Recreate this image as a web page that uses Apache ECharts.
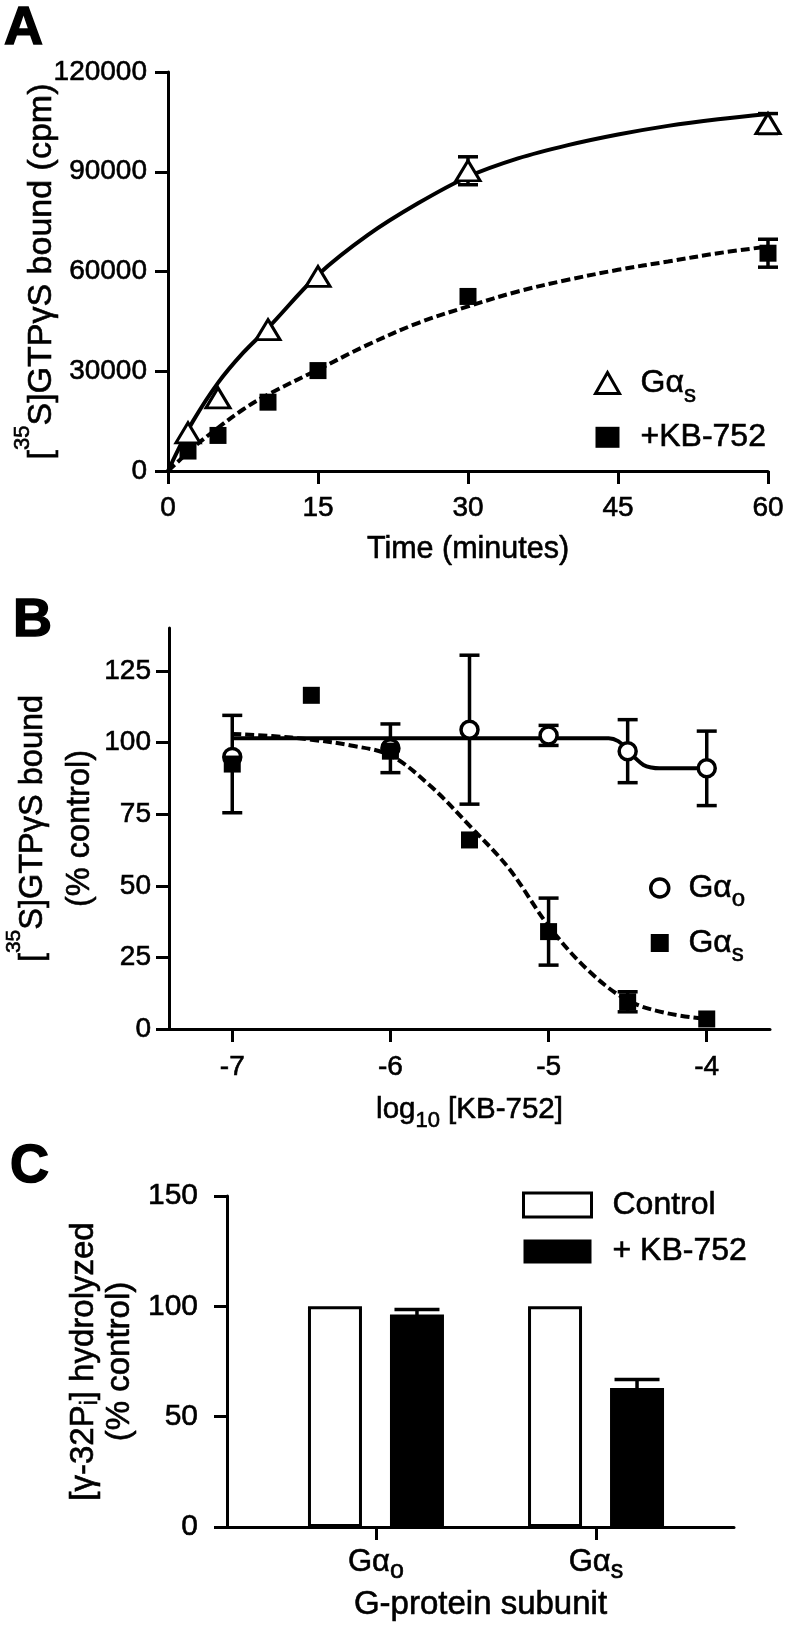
<!DOCTYPE html>
<html><head><meta charset="utf-8">
<script src="https://cdn.jsdelivr.net/npm/echarts@6/dist/echarts.min.js"></script>
<style>html,body{margin:0;padding:0;background:#fff}#c{width:786px;height:1628px}</style>
</head><body><div id="c"></div>
<script>
// ---------- Panel A : time course ----------
const timeMin   = [2, 5, 10, 15, 30, 60];
const gasCpm    = [11500, 22000, 42500, 58500, 90300, 104500];
const gasCpmErr = [0, 0, 0, 0, 4200, 3000];
const kbCpm     = [6000, 10700, 20700, 30200, 52500, 65500];
const kbCpmErr  = [0, 0, 0, 0, 0, 4200];
const fitTime   = [0, 1, 2.5, 5, 7.5, 10, 15, 20, 25, 30, 35, 40, 45, 50, 55, 60];
const gasFit    = [0, 6300, 15000, 26500, 35500, 43000, 59000, 71000, 80500, 88500, 94000, 98000, 101200, 103800, 105800, 107400];
const kbFit     = [0, 2800, 7000, 13000, 18500, 23000, 30500, 38000, 44500, 49500, 54000, 57500, 60500, 63000, 65500, 67500];

// ---------- Panel B : concentration response ----------
const goLogConc = [-7, -6, -5.5, -5, -4.5, -4];
const goPct     = [95, 98, 104.5, 102.5, 97, 91];
const goPctErr  = [0, 8.5, 26, 3.5, 11, 13];
const gsLogConc = [-7, -6.5, -6, -5.5, -5, -4.5, -4];
const gsPct     = [92.5, 116.5, 97, 66, 34, 9.5, 3.5];
const gsPctErr  = [17, 0, 0, 0, 11.7, 3.5, 0];
const goFitX    = [-7, -6, -5, -4.62, -4.56, -4.5, -4.45, -4.4, -4.35, -4.3, -4];
const goFitY    = [101.5, 101.5, 101.5, 101.5, 100.5, 97.5, 94.5, 92.2, 91.3, 91, 91];
const gsFitX    = [-7, -6.75, -6.5, -6.25, -6, -5.75, -5.5, -5.25, -5, -4.75, -4.5, -4.25, -4];
const gsFitY    = [103, 102.3, 101, 99, 95.5, 85, 71, 56, 36, 20.5, 10, 5.5, 3.5];
const bXTicks   = [-7, -6, -5, -4];
const bYTicks   = [0, 25, 50, 75, 100, 125];

// ---------- Panel C : GTP hydrolysis ----------
const subunits   = ['Gαo', 'Gαs'];
const controlPct = [100, 100];
const kbPct      = [96.3, 63];
const kbPctErr   = [2.3, 3.8];

const FONT = "'Liberation Sans', Arial, Helvetica, sans-serif";
const BLACK = '#000';
const TB = {textBorderColor: BLACK, textBorderWidth: 0.6};

function rich(subFs, subH, supH) {
  const sub = Object.assign({fontFamily: FONT, fontSize: subFs, color: BLACK, verticalAlign: 'bottom', lineHeight: 8}, TB);
  const sup = Object.assign({fontFamily: FONT, fontSize: subFs, color: BLACK, verticalAlign: 'top', lineHeight: 8}, TB);
  if (subH != null) sub.height = subH;
  if (supH != null) sup.height = supH;
  return {sub: sub, sup: sup};
}
function subText(s) { return s.slice(0, -1) + '{sub|' + s.slice(-1) + '}'; }

function axisBase(gridIndex, fs) {
  return {
    gridIndex: gridIndex, type: 'value', nameMoveOverlap: false,
    axisLine: {show: true, onZero: false, lineStyle: {color: BLACK, width: 3}},
    axisTick: {show: true, length: 13, lineStyle: {color: BLACK, width: 3}},
    splitLine: {show: false},
    axisLabel: Object.assign({color: BLACK, fontFamily: FONT, fontSize: fs, lineHeight: 32, formatter: v => String(v)}, TB),
    nameTextStyle: Object.assign({color: BLACK, fontFamily: FONT}, TB)
  };
}
function merge(a, b) {
  const out = Object.assign({}, a);
  for (const k in b) {
    if (b[k] && typeof b[k] === 'object' && !Array.isArray(b[k]) && a[k] && typeof a[k] === 'object') out[k] = merge(a[k], b[k]);
    else out[k] = b[k];
  }
  return out;
}

function errorBars(capW, dx) {
  return function (params, api) {
    const x = api.value(0);
    const top = api.coord([x, api.value(2)]);
    const bot = api.coord([x, api.value(1)]);
    const cx = top[0] + dx;
    const st = {stroke: BLACK, lineWidth: 3.5, fill: null};
    return {type: 'group', children: [
      {type: 'line', shape: {x1: cx, y1: top[1], x2: cx, y2: bot[1]}, style: st},
      {type: 'line', shape: {x1: cx - capW / 2, y1: top[1], x2: cx + capW / 2, y2: top[1]}, style: st},
      {type: 'line', shape: {x1: cx - capW / 2, y1: bot[1], x2: cx + capW / 2, y2: bot[1]}, style: st}
    ]};
  };
}
function errData(xs, ys, es) {
  return xs.map((x, i) => [x, ys[i] - es[i], ys[i] + es[i]]).filter(d => d[2] > d[1]);
}
const pairs = (xs, ys) => xs.map((x, i) => [x, ys[i]]);

const legendText = {
  'A-Gs': 'Gα{sub|s}', 'A-KB': '+KB-752',
  'B-Go': 'Gα{sub|o}', 'B-Gs': 'Gα{sub|s}',
  'C-Control': 'Control', 'C-KB': '+ KB-752'
};
const legendFmt = name => legendText[name];
const BAR_W = 54, BAR_GAP = 28;
const titleStyle = Object.assign({fontFamily: FONT, fontWeight: 'bold', fontSize: 54, lineHeight: 54, color: BLACK}, {textBorderColor: BLACK, textBorderWidth: 1.5});

const option = {
  animation: false,
  backgroundColor: '#fff',
  title: [
    {text: 'A', left: 4, top: 2, padding: 0, textStyle: titleStyle},
    {text: 'B', left: 13, top: 594, padding: 0, textStyle: titleStyle},
    {text: 'C', left: 10, top: 1140, padding: 0, textStyle: titleStyle}
  ],
  grid: [
    {left: 168, top: 72, width: 600, height: 399, outerBoundsMode: 'none', containLabel: false},
    {left: 169, top: 628, width: 601, height: 401, outerBoundsMode: 'none', containLabel: false},
    {left: 227, top: 1196, width: 507, height: 331, outerBoundsMode: 'none', containLabel: false}
  ],
  legend: [
    {orient: 'vertical', left: 594, top: 366, padding: 0, itemWidth: 24, itemHeight: 21, itemGap: 13, selectedMode: false,
     data: [{name: 'A-Gs', icon: 'triangle', itemStyle: {color: '#fff', borderColor: BLACK, borderWidth: 3}},
            {name: 'A-KB', icon: 'rect', itemStyle: {color: BLACK, borderWidth: 0}}],
     formatter: legendFmt,
     textStyle: Object.assign({fontFamily: FONT, fontSize: 32, lineHeight: 34, color: BLACK, padding: [0, 0, 0, 16], rich: rich(24, 10)}, TB)},
    {orient: 'vertical', left: 649, top: 871, padding: 0, itemWidth: 18, itemHeight: 18, itemGap: 14.7, selectedMode: false,
     data: [{name: 'B-Go', icon: 'circle', itemStyle: {color: '#fff', borderColor: BLACK, borderWidth: 3.5}},
            {name: 'B-Gs', icon: 'rect', itemStyle: {color: BLACK, borderWidth: 0}}],
     formatter: legendFmt,
     textStyle: Object.assign({fontFamily: FONT, fontSize: 32, lineHeight: 34, color: BLACK, padding: [0, 0, 0, 14.7], rich: rich(24, 12)}, TB)},
    {orient: 'vertical', left: 522, top: 1187, padding: 0, itemWidth: 68, itemHeight: 24, itemGap: 10.6, selectedMode: false,
     data: [{name: 'C-Control', icon: 'rect', itemStyle: {color: '#fff', borderColor: BLACK, borderWidth: 3}},
            {name: 'C-KB', icon: 'rect', itemStyle: {color: BLACK, borderWidth: 0}}],
     formatter: legendFmt,
     textStyle: Object.assign({fontFamily: FONT, fontSize: 32, lineHeight: 36, color: BLACK, padding: [0, 0, 0, 16]}, TB)}
  ],
  xAxis: [
    merge(axisBase(0, 28), {min: 0, max: 60, interval: 15, axisLabel: {margin: 21},
      name: 'Time (minutes)', nameLocation: 'middle', nameGap: 61,
      nameTextStyle: {fontSize: 30.5, lineHeight: 36}}),
    merge(axisBase(1, 28), {min: -7.4, max: -3.6,
      axisTick: {customValues: bXTicks}, axisLabel: {customValues: bXTicks, margin: 22},
      name: 'log{sub|10} [KB-752]', nameLocation: 'middle', nameGap: 63,
      nameTextStyle: {fontSize: 29.5, lineHeight: 36, rich: rich(22, 14)}}),
    merge(axisBase(2, 31), {min: 0.323, max: 2.627,
      axisTick: {customValues: [1, 2]},
      axisLabel: {customValues: [1, 2], margin: 18, lineHeight: 34, rich: rich(25, 16),
        formatter: v => subText(subunits[Math.round(v) - 1])},
      name: 'G-protein subunit', nameLocation: 'middle', nameGap: 59,
      nameTextStyle: {fontSize: 33, lineHeight: 38}})
  ],
  yAxis: [
    merge(axisBase(0, 28), {min: 0, max: 120000, interval: 30000, axisLabel: {margin: 21},
      name: '[{sup|35}S]GTPγS bound (cpm)', nameLocation: 'middle', nameRotate: 90, nameGap: 106,
      nameTextStyle: {fontSize: 34, lineHeight: 40, rich: rich(22, null, 2)}}),
    merge(axisBase(1, 28), {min: 0, max: 140,
      axisTick: {customValues: bYTicks}, axisLabel: {customValues: bYTicks, margin: 18},
      name: '[{sup|35}S]GTPγS bound\n(% control)', nameLocation: 'middle', nameRotate: 90, nameGap: 65,
      nameTextStyle: {fontSize: 32.5, lineHeight: 47, rich: rich(21, null, 8)}}),
    merge(axisBase(2, 30), {min: 0, max: 150, interval: 50, axisLabel: {margin: 29},
      name: '[γ-32P{sub|i}] hydrolyzed\n(% control)', nameLocation: 'middle', nameRotate: 90, nameGap: 89,
      nameTextStyle: {fontSize: 33, lineHeight: 36, rich: rich(23, 22)}})
  ],
  series: [
    // Panel A
    {type: 'line', xAxisIndex: 0, yAxisIndex: 0, data: pairs(fitTime, gasFit), symbol: 'none', smooth: 0.35,
     lineStyle: {color: BLACK, width: 4}, z: 2, silent: true},
    {type: 'line', xAxisIndex: 0, yAxisIndex: 0, data: pairs(fitTime, kbFit), symbol: 'none', smooth: 0.35,
     lineStyle: {color: BLACK, width: 4, type: [9, 4]}, z: 2, silent: true},
    {type: 'custom', xAxisIndex: 0, yAxisIndex: 0, renderItem: errorBars(20, 0), data: errData(timeMin, gasCpm, gasCpmErr),
     encode: {x: 0, y: [1, 2]}, z: 3, silent: true, clip: false},
    {type: 'custom', xAxisIndex: 0, yAxisIndex: 0, renderItem: errorBars(20, 0), data: errData(timeMin, kbCpm, kbCpmErr),
     encode: {x: 0, y: [1, 2]}, z: 3, silent: true, clip: false},
    {name: 'A-KB', type: 'scatter', xAxisIndex: 0, yAxisIndex: 0, data: pairs(timeMin, kbCpm), symbol: 'rect', symbolSize: 17,
     itemStyle: {color: BLACK, opacity: 1}, z: 4},
    {name: 'A-Gs', type: 'scatter', xAxisIndex: 0, yAxisIndex: 0, data: pairs(timeMin, gasCpm), symbol: 'triangle', symbolSize: [24, 20],
     itemStyle: {color: '#fff', borderColor: BLACK, borderWidth: 3, opacity: 1}, z: 5},
    // Panel B
    {type: 'line', xAxisIndex: 1, yAxisIndex: 1, data: pairs(goFitX, goFitY), symbol: 'none', smooth: 0.35,
     lineStyle: {color: BLACK, width: 4}, z: 2, silent: true},
    {type: 'line', xAxisIndex: 1, yAxisIndex: 1, data: pairs(gsFitX, gsFitY), symbol: 'none', smooth: 0.35,
     lineStyle: {color: BLACK, width: 4, type: [9, 4]}, z: 2, silent: true},
    {type: 'custom', xAxisIndex: 1, yAxisIndex: 1, renderItem: errorBars(20, 0), data: errData(goLogConc, goPct, goPctErr),
     encode: {x: 0, y: [1, 2]}, z: 3, silent: true, clip: false},
    {type: 'custom', xAxisIndex: 1, yAxisIndex: 1, renderItem: errorBars(20, 0), data: errData(gsLogConc, gsPct, gsPctErr),
     encode: {x: 0, y: [1, 2]}, z: 3, silent: true, clip: false},
    {name: 'B-Go', type: 'scatter', xAxisIndex: 1, yAxisIndex: 1, data: pairs(goLogConc, goPct), symbol: 'circle', symbolSize: 17,
     itemStyle: {color: '#fff', borderColor: BLACK, borderWidth: 3.5, opacity: 1}, z: 4},
    {name: 'B-Gs', type: 'scatter', xAxisIndex: 1, yAxisIndex: 1, data: pairs(gsLogConc, gsPct), symbol: 'rect', symbolSize: 17,
     itemStyle: {color: BLACK, opacity: 1}, z: 5},
    // Panel C
    {name: 'C-Control', type: 'bar', xAxisIndex: 2, yAxisIndex: 2, data: subunits.map((s, i) => [i + 1, controlPct[i]]),
     barWidth: BAR_W, barGap: (BAR_GAP / BAR_W * 100) + '%',
     itemStyle: {color: '#fff', borderColor: BLACK, borderWidth: 3}, z: 2},
    {name: 'C-KB', type: 'bar', xAxisIndex: 2, yAxisIndex: 2, data: subunits.map((s, i) => [i + 1, kbPct[i]]),
     barWidth: BAR_W, barGap: (BAR_GAP / BAR_W * 100) + '%',
     itemStyle: {color: BLACK}, z: 2},
    {type: 'custom', xAxisIndex: 2, yAxisIndex: 2, renderItem: errorBars(45, (BAR_W + BAR_GAP) / 2),
     data: errData(subunits.map((s, i) => i + 1), kbPct, kbPctErr), encode: {x: 0, y: [1, 2]}, z: 3, silent: true, clip: false}
  ]
};

const chart = echarts.init(document.getElementById('c'), null, {renderer: 'canvas'});
chart.setOption(option);
</script>
</body></html>
